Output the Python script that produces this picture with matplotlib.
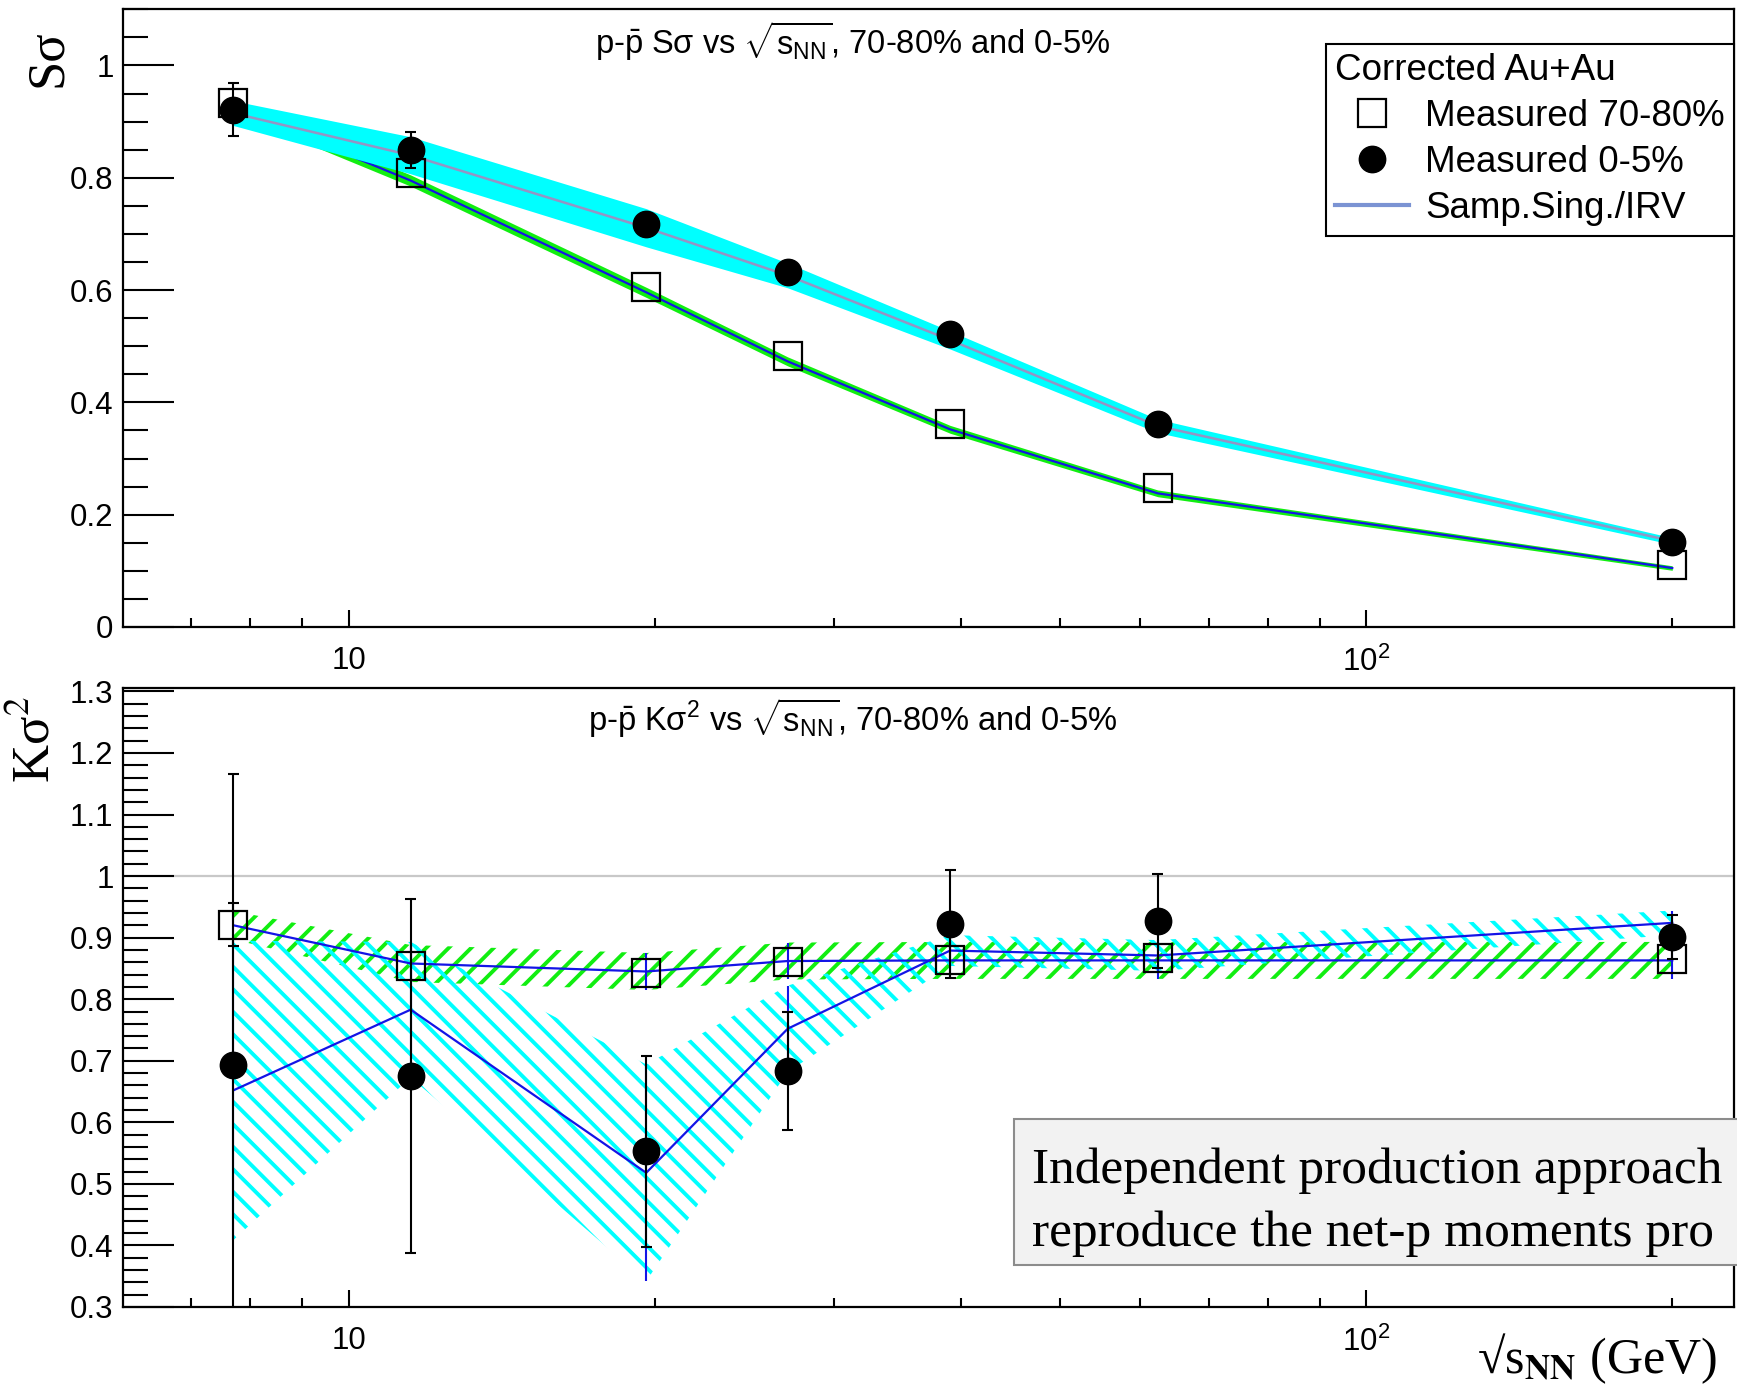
import numpy as np
import matplotlib
matplotlib.use("Agg")
import matplotlib.pyplot as plt
from matplotlib.patches import Polygon, Rectangle
from matplotlib.collections import LineCollection
from matplotlib.lines import Line2D
from matplotlib.transforms import IdentityTransform
from matplotlib.ticker import FixedLocator, FuncFormatter, MultipleLocator, NullFormatter

# ---------------- data ----------------
energy = np.array([7.7, 11.5, 19.6, 27.0, 39.0, 62.4, 200.0])

# S*sigma, measured
ss_70_80 = np.array([0.933, 0.808, 0.606, 0.483, 0.362, 0.248, 0.110])
ss_70_80_err = np.array([0.012, 0.012, 0.010, 0.008, 0.007, 0.006, 0.005])
ss_0_5 = np.array([0.921, 0.849, 0.717, 0.632, 0.521, 0.362, 0.151])
ss_0_5_err = np.array([0.047, 0.032, 0.015, 0.012, 0.010, 0.008, 0.006])

# S*sigma, Samp.Sing./IRV
ss_model_70_80 = np.array([0.925, 0.795, 0.596, 0.473, 0.352, 0.238, 0.105])
ss_model_70_80_err = np.array([0.010, 0.010, 0.009, 0.008, 0.007, 0.006, 0.004])
ss_model_0_5 = np.array([0.915, 0.840, 0.711, 0.626, 0.511, 0.358, 0.153])
ss_model_0_5_err = np.array([0.022, 0.033, 0.034, 0.022, 0.016, 0.012, 0.006])

# K*sigma^2, measured
ks_70_80 = np.array([0.921, 0.854, 0.842, 0.861, 0.864, 0.867, 0.866])
ks_70_80_err = np.array([0.035, 0.015, 0.012, 0.012, 0.012, 0.012, 0.012])
ks_0_5 = np.array([0.693, 0.675, 0.553, 0.683, 0.922, 0.927, 0.901])
ks_0_5_err = np.array([0.472, 0.287, 0.155, 0.096, 0.088, 0.077, 0.036])

# K*sigma^2, Samp.Sing./IRV
ks_model_70_80 = np.array([0.920, 0.858, 0.845, 0.862, 0.863, 0.863, 0.863])
ks_model_70_80_err = np.array([0.023, 0.030, 0.030, 0.030, 0.030, 0.030, 0.030])
ks_model_0_5 = np.array([0.652, 0.783, 0.518, 0.752, 0.879, 0.871, 0.924])
ks_model_0_5_err = np.array([0.243, 0.110, 0.176, 0.070, 0.025, 0.025, 0.020])

# ---------------- style ----------------
plt.rcParams.update({
    "font.family": ["Liberation Sans", "DejaVu Sans"],
    "mathtext.fontset": "custom",
    "mathtext.rm": "Liberation Sans",
    "mathtext.it": "Liberation Sans:italic",
    "mathtext.bf": "Liberation Sans:bold",
})

BLUE = "#1414e6"
CYAN = "#00ffff"
GREEN = "#11ee11"
LAVENDER = "#9494c4"
LEG_LINE = "#7b93d3"
SERIF = ["Liberation Serif", "DejaVu Serif"]

W, H = 1737, 1387
DPI = 100
fig = plt.figure(figsize=(W / DPI, H / DPI), dpi=DPI)


def px_rect(left, top, right, bottom):
    return [left / W, 1 - bottom / H, (right - left) / W, (bottom - top) / H]


ax1 = fig.add_axes(px_rect(123.3, 9.3, 1734, 627))
ax2 = fig.add_axes(px_rect(123.3, 688.3, 1734, 1307))


def decade_label(v, pos):
    return "10" if v < 50 else r"$10^{2}$"


def style_axes(ax, ylim, major, minor):
    ax.set_xscale("log")
    ax.set_xlim(6, 230)
    ax.set_ylim(*ylim)
    ax.xaxis.set_major_locator(FixedLocator([10, 100]))
    ax.xaxis.set_major_formatter(FuncFormatter(decade_label))
    ax.xaxis.set_minor_locator(FixedLocator([7, 8, 9, 20, 30, 40, 50, 60, 70, 80, 90, 200]))
    ax.xaxis.set_minor_formatter(NullFormatter())
    ax.yaxis.set_major_locator(MultipleLocator(major))
    ax.yaxis.set_minor_locator(MultipleLocator(minor))
    ax.yaxis.set_major_formatter(FuncFormatter(lambda v, p: f"{v:g}"))
    ax.tick_params(which="both", direction="in", top=False, right=False,
                   width=1.5, color="black", labelsize=22.5)
    ax.tick_params(axis="x", which="major", length=12.5, pad=14)
    ax.tick_params(axis="x", which="minor", length=6.5)
    ax.tick_params(axis="y", which="major", length=37, pad=7)
    ax.tick_params(axis="y", which="minor", length=18)
    for s in ax.spines.values():
        s.set_linewidth(1.6)


style_axes(ax1, (0, 1.1), 0.2, 0.05)
style_axes(ax2, (0.3, 1.305), 0.1, 0.02)


def hatch_band(ax, x, lo, hi, color, direction, spacing=22.5, lw=2.8, zorder=2):
    """Fill the region between lo and hi with diagonal hatch lines."""
    verts = np.column_stack([np.concatenate([x, x[::-1]]),
                             np.concatenate([hi, lo[::-1]])])
    poly = Polygon(verts, closed=True, facecolor="none", edgecolor="none",
                   transform=ax.transData)
    ax.add_patch(poly)
    bb = ax.get_window_extent()
    w, h = bb.width, bb.height
    offsets = np.arange(-h, w + h, spacing)
    if direction > 0:
        segs = [[(c / w, 0.0), ((c + h) / w, 1.0)] for c in offsets]
    else:
        segs = [[(c / w, 1.0), ((c + h) / w, 0.0)] for c in offsets]
    lc = LineCollection(segs, colors=color, linewidths=lw,
                        transform=ax.transAxes, zorder=zorder)
    ax.add_collection(lc, autolim=False)
    lc.set_clip_path(poly)


def outer_errorbars(ax, x, y, err, marker_pt, cap_px=11, lw=1.5, zorder=6):
    """Error bars drawn only outside the marker, with short end caps."""
    half = marker_pt / 72 * DPI / 2
    segs = []
    for xv, yv, e in zip(x, y, err):
        px, py = ax.transData.transform((xv, yv))
        top = ax.transData.transform((xv, yv + e))[1]
        bot = ax.transData.transform((xv, yv - e))[1]
        if top - py > half:
            segs.append([(px, py + half), (px, top)])
            segs.append([(px - cap_px / 2, top), (px + cap_px / 2, top)])
        if py - bot > half:
            segs.append([(px, py - half), (px, bot)])
            segs.append([(px - cap_px / 2, bot), (px + cap_px / 2, bot)])
    lc = LineCollection(segs, colors="black", linewidths=lw,
                        transform=IdentityTransform(), zorder=zorder)
    ax.add_collection(lc, autolim=False)
    lc.set_clip_box(ax.bbox)


SQ_MS, CI_MS = 20, 19
sq_kw = dict(marker="s", ls="none", ms=SQ_MS, mfc="none", mec="black", mew=1.6)
ci_kw = dict(marker="o", ls="none", ms=CI_MS, mfc="black", mec="black")

# ---------------- top panel: S sigma ----------------
ax1.fill_between(energy, ss_model_70_80 - ss_model_70_80_err,
                 ss_model_70_80 + ss_model_70_80_err, color=GREEN, lw=0, zorder=2)
ax1.plot(energy, ss_model_70_80, color=BLUE, lw=1.6, zorder=3)
ax1.fill_between(energy, ss_model_0_5 - ss_model_0_5_err,
                 ss_model_0_5 + ss_model_0_5_err, color=CYAN, lw=0, zorder=4)
ax1.plot(energy, ss_model_0_5, color=LAVENDER, lw=1.8, zorder=5)
outer_errorbars(ax1, energy, ss_70_80, ss_70_80_err, SQ_MS)
outer_errorbars(ax1, energy, ss_0_5, ss_0_5_err, CI_MS)
ax1.plot(energy, ss_70_80, zorder=7, **sq_kw)
ax1.plot(energy, ss_0_5, zorder=8, **ci_kw)

handles = [
    Line2D([], [], **sq_kw),
    Line2D([], [], **ci_kw),
    Line2D([], [], color=LEG_LINE, lw=3),
]
leg = ax1.legend(handles, ["Measured 70-80%", "Measured 0-5%", "Samp.Sing./IRV"],
                 title="Corrected Au+Au", title_fontsize=26.5, fontsize=26.5,
                 alignment="left", loc="upper right",
                 bbox_to_anchor=(1.0, 1 - (44 - 9.3) / (627 - 9.3)),
                 borderaxespad=0, fancybox=False, framealpha=1, edgecolor="black",
                 handlelength=2.0, handletextpad=0.45, labelspacing=0.3,
                 borderpad=0.25)
leg.get_frame().set_linewidth(1.5)
leg.set_zorder(20)

# ---------------- bottom panel: K sigma^2 ----------------
ax2.axhline(1.0, color="#c8c8c8", lw=1.6, zorder=1)
hatch_band(ax2, energy, ks_model_70_80 - ks_model_70_80_err,
           ks_model_70_80 + ks_model_70_80_err, GREEN, +1, zorder=2)
hatch_band(ax2, energy, ks_model_0_5 - ks_model_0_5_err,
           ks_model_0_5 + ks_model_0_5_err, CYAN, -1, zorder=3)
ax2.errorbar(energy, ks_model_70_80, yerr=ks_model_70_80_err, fmt="-", color=BLUE,
             lw=1.6, elinewidth=1.5, zorder=4)
ax2.errorbar(energy, ks_model_0_5, yerr=ks_model_0_5_err, fmt="-", color=BLUE,
             lw=1.6, elinewidth=1.5, zorder=4)
outer_errorbars(ax2, energy, ks_70_80, ks_70_80_err, SQ_MS)
outer_errorbars(ax2, energy, ks_0_5, ks_0_5_err, CI_MS)
ax2.plot(energy, ks_70_80, zorder=7, **sq_kw)
ax2.plot(energy, ks_0_5, zorder=8, **ci_kw)

# ---------------- titles and axis labels ----------------
fig.text(853 / W, 1 - 54 / H,
         r"p-$\bar{\mathrm{p}}$ Sσ vs $\sqrt{\mathrm{s}_{\mathrm{NN}}}$, 70-80% and 0-5%",
         ha="center", va="baseline", fontsize=23.5)
fig.text(853 / W, 1 - 731 / H,
         r"p-$\bar{\mathrm{p}}$ Kσ$^{2}$ vs $\sqrt{\mathrm{s}_{\mathrm{NN}}}$, 70-80% and 0-5%",
         ha="center", va="baseline", fontsize=23.5)

fig.text(48 / W, 1 - 58 / H, "Sσ", rotation=90, ha="center", va="center",
         fontsize=38, family=SERIF)
fig.text(36 / W, 1 - 740 / H, r"Kσ$^{2}$", rotation=90, ha="center", va="center",
         fontsize=38, family=SERIF, math_fontfamily="stix")
fig.text(1717 / W, 1 - 1373 / H, r"√s$_{\mathbf{NN}}$ (GeV)", ha="right",
         va="baseline", fontsize=36, family=SERIF, math_fontfamily="stix")

# ---------------- annotation box ----------------
box = Rectangle((1014 / W, 1 - 1265 / H), 0.5, 146 / H, transform=fig.transFigure,
                facecolor="#f2f2f2", edgecolor="#8c8c8c", lw=1.5, zorder=30)
fig.add_artist(box)
fig.text(1032 / W, 1 - 1183 / H, "Independent production approach",
         ha="left", va="baseline", fontsize=37, family=SERIF, zorder=31)
fig.text(1032 / W, 1 - 1246 / H, "reproduce the net-p moments pro",
         ha="left", va="baseline", fontsize=37, family=SERIF, zorder=31)

fig.savefig("out.png", dpi=DPI)
